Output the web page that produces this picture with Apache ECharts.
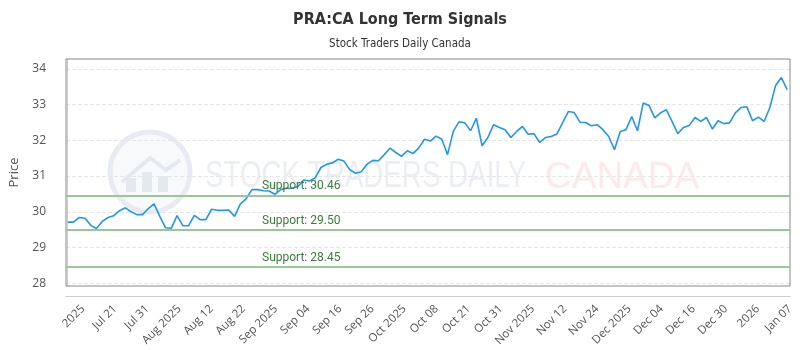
<!DOCTYPE html>
<html>
<head>
<meta charset="utf-8">
<script src="https://cdn.jsdelivr.net/npm/echarts@6/dist/echarts.min.js"></script>
<style>
  html, body { margin: 0; padding: 0; background: #fff; }
  #chart { width: 800px; height: 350px; }
</style>
</head>
<body>
<div id="chart"></div>
<script>
// daily closes, Jul 2025 .. Jan 2026
const prices = [
  29.71, 29.71, 29.84, 29.82, 29.62, 29.53, 29.73, 29.84, 29.89, 30.03,
  30.11, 30.00, 29.92, 29.92, 30.09, 30.22, 29.87, 29.55, 29.54, 29.89,
  29.61, 29.61, 29.90, 29.78, 29.78, 30.07, 30.04, 30.04, 30.05, 29.87,
  30.22, 30.36, 30.62, 30.62, 30.59, 30.58, 30.49, 30.62, 30.66, 30.66,
  30.71, 30.89, 30.86, 30.95, 31.24, 31.33, 31.37, 31.47, 31.42, 31.18,
  31.08, 31.12, 31.33, 31.44, 31.43, 31.60, 31.78, 31.66, 31.55, 31.71,
  31.63, 31.79, 32.03, 31.98, 32.12, 32.03, 31.60, 32.26, 32.52, 32.49,
  32.27, 32.62, 31.85, 32.08, 32.44, 32.36, 32.30, 32.08, 32.25, 32.39,
  32.17, 32.19, 31.94, 32.08, 32.11, 32.18, 32.50, 32.81, 32.78, 32.51,
  32.50, 32.41, 32.44, 32.30, 32.11, 31.74, 32.25, 32.30, 32.67, 32.27,
  33.05, 32.98, 32.63, 32.77, 32.86, 32.53, 32.19, 32.36, 32.42, 32.64,
  32.53, 32.64, 32.32, 32.55, 32.47, 32.49, 32.77, 32.92, 32.94, 32.55,
  32.65, 32.53, 32.92, 33.54, 33.76, 33.42
];
const tickLabels = [
  '2025', 'Jul 21', 'Jul 31', 'Aug 2025', 'Aug 12', 'Aug 22', 'Sep 2025', 'Sep 04',
  'Sep 16', 'Sep 26', 'Oct 2025', 'Oct 08', 'Oct 21', 'Oct 31', 'Nov 2025', 'Nov 12',
  'Nov 24', 'Dec 2025', 'Dec 04', 'Dec 16', 'Dec 30', '2026', 'Jan 07'
];
const supportLevels = [30.46, 29.50, 28.45];

const condensed = "'DejaVu Sans Condensed', 'Liberation Sans Narrow', sans-serif";
const axisFont = "'Open Sans', sans-serif";

const chart = echarts.init(document.getElementById('chart'));
chart.setOption({
  animation: false,
  title: {
    text: 'PRA:CA Long Term Signals',
    subtext: 'Stock Traders Daily Canada',
    left: 'center',
    top: 7,
    itemGap: 10,
    textStyle: { fontSize: 16, fontWeight: 'bold', color: '#333', fontFamily: condensed },
    subtextStyle: { fontSize: 11.5, color: '#333', fontFamily: condensed }
  },
  // watermark
  graphic: [
    { type: 'circle', silent: true, z: 0, shape: { cx: 150, cy: 172, r: 40 },
      style: { fill: 'rgba(235,239,245,0.4)', stroke: '#e8ecf2', lineWidth: 5 } },
    { type: 'polyline', silent: true, z: 0, shape: { points: [[122, 182], [150, 158], [166, 170], [180, 160]] },
      style: { fill: null, stroke: '#e4e8ef', lineWidth: 4 } },
    { type: 'rect', silent: true, z: 0, shape: { x: 126, y: 178, width: 10, height: 14 }, style: { fill: '#e4e8ef' } },
    { type: 'rect', silent: true, z: 0, shape: { x: 142, y: 172, width: 10, height: 20 }, style: { fill: '#e4e8ef' } },
    { type: 'rect', silent: true, z: 0, shape: { x: 158, y: 176, width: 10, height: 16 }, style: { fill: '#e4e8ef' } },
    { type: 'text', silent: true, z: 0, x: 205, y: 177, scaleX: 0.75,
      style: { text: 'STOCK TRADERS DAILY', font: "37px 'Liberation Sans'", fill: '#ebeef4', textVerticalAlign: 'middle' } },
    { type: 'text', silent: true, z: 0, x: 545, y: 178,
      style: { text: 'CANADA', font: "37px 'Liberation Sans'", fill: '#fde9e9', textVerticalAlign: 'middle' } }
  ],
  grid: [
    { left: 60, right: 10, top: 59, bottom: 64, show: true, borderColor: '#888888', borderWidth: 1, z: 4 },
    { left: 83, right: 10, top: 59, bottom: 64 }
  ],
  xAxis: [
    {
      type: 'value', gridIndex: 0, min: -0.3, max: 125.5, offset: 10,
      axisLine: { show: true, lineStyle: { color: '#cccccc' } },
      axisTick: { show: false }, axisLabel: { show: false }, splitLine: { show: false }
    },
    {
      type: 'value', gridIndex: 1, min: 0, max: 22, interval: 1, offset: 10,
      axisLine: { show: false }, axisTick: { show: false }, splitLine: { show: false },
      axisLabel: {
        rotate: 45, margin: 11, color: '#555', fontSize: 11.5, fontFamily: axisFont,
        formatter: v => tickLabels[v] || ''
      }
    }
  ],
  yAxis: [
    {
      type: 'value', gridIndex: 0, min: 27.92, max: 34.28, splitNumber: 6, offset: 10,
      name: 'Price', nameLocation: 'middle', nameGap: 35,
      nameTextStyle: { color: '#555', fontSize: 13, fontFamily: axisFont },
      axisLine: { show: true, lineStyle: { color: '#cccccc' } },
      axisTick: { show: false },
      axisLabel: { showMinLabel: false, showMaxLabel: false, margin: 10, color: '#555', fontSize: 12, fontFamily: axisFont },
      splitLine: { showMinLine: false, showMaxLine: false, lineStyle: { type: 'dashed', color: '#e6e6e6' } }
    },
    { type: 'value', gridIndex: 1, min: 0, max: 1, show: false }
  ],
  series: [{
    type: 'line',
    xAxisIndex: 0,
    yAxisIndex: 0,
    data: prices.map((v, i) => [i, v]),
    showSymbol: false,
    lineStyle: { color: '#2196f3', width: 1.6 },
    itemStyle: { color: '#2196f3' },
    z: 3,
    markLine: {
      silent: true,
      symbol: 'none',
      lineStyle: { color: '#98c898', width: 2, type: 'solid' },
      label: {
        position: 'insideStartTop',
        distance: [196, 3],
        color: '#3b7d3b',
        fontSize: 12,
        fontFamily: 'Roboto',
        formatter: p => 'Support: ' + p.value.toFixed(2)
      },
      emphasis: { disabled: true },
      data: supportLevels.map(v => ({ yAxis: v }))
    }
  }]
});
</script>
</body>
</html>
